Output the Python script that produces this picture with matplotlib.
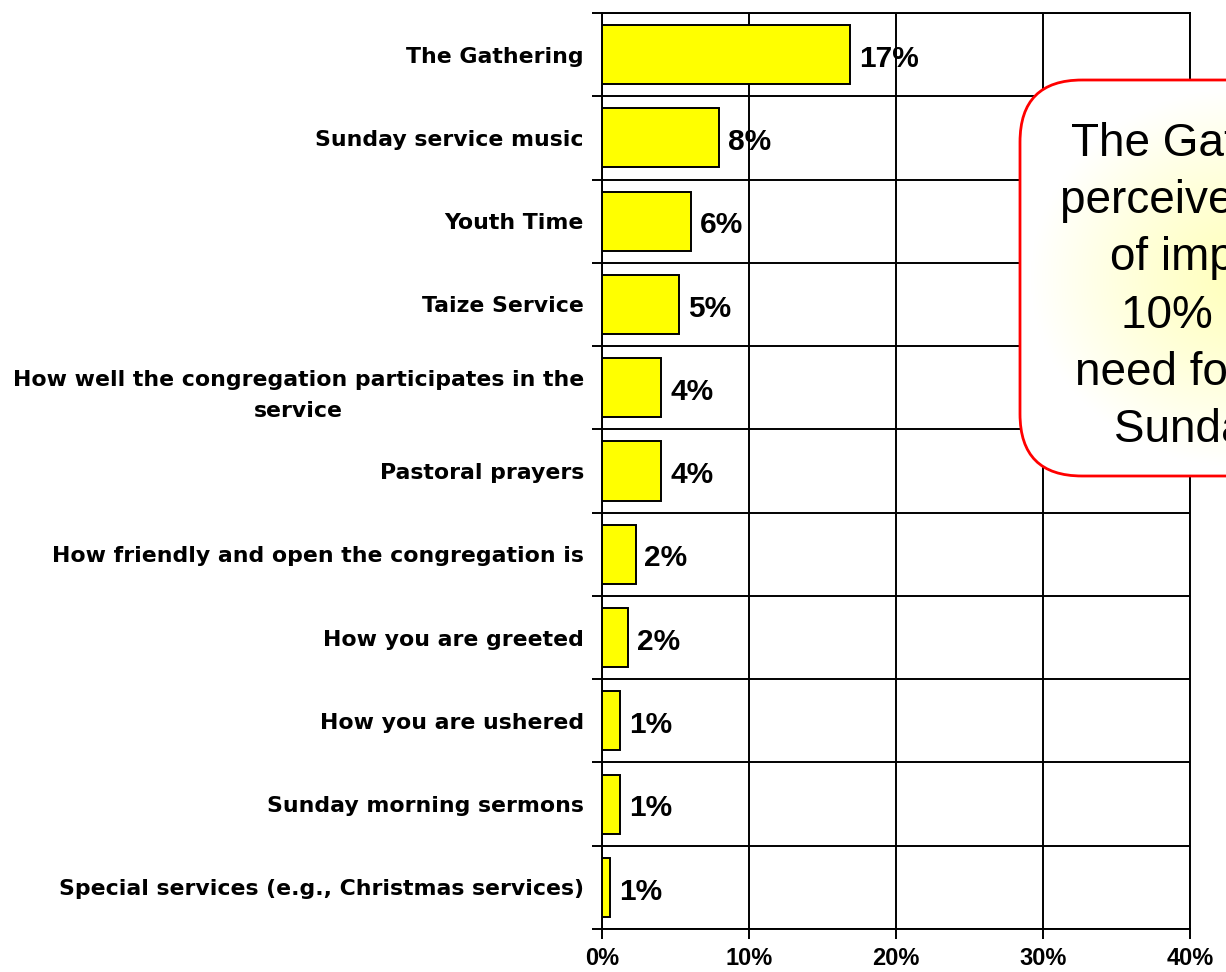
import numpy as np
import matplotlib
matplotlib.use("Agg")
import matplotlib.pyplot as plt
from matplotlib.patches import FancyBboxPatch

# ---- data -------------------------------------------------------------
categories = [
    "The Gathering",
    "Sunday service music",
    "Youth Time",
    "Taize Service",
    "How well the congregation participates in the\nservice",
    "Pastoral prayers",
    "How friendly and open the congregation is",
    "How you are greeted",
    "How you are ushered",
    "Sunday morning sermons",
    "Special services (e.g., Christmas services)",
]
values = [16.87, 7.98, 6.08, 5.24, 4.04, 4.04, 2.29, 1.77, 1.25, 1.25, 0.55]
x_ticks = [0, 10, 20, 30, 40]
x_tick_labels = ["0%", "10%", "20%", "30%", "40%"]

callout_lines = [
    "The Gathering is",
    "perceived in need",
    "of improving,",
    "10% cited a",
    "need for change",
    "Sundays too",
]

# ---- figure -----------------------------------------------------------
W, H, DPI = 1226, 972, 100
fig = plt.figure(figsize=(W / DPI, H / DPI), dpi=DPI)
fig.patch.set_facecolor("white")
arial = "Liberation Sans"
label_font = "DejaVu Sans"

ax = fig.add_axes([602 / W, 1 - 929 / H, (1190 - 602) / W, (929 - 13) / H])
y = np.arange(len(categories))
ax.barh(y, values, height=0.71, color="#FFFF00", edgecolor="black",
        linewidth=1.4, zorder=3)

ax.set_xlim(0, 40)
ax.set_ylim(len(categories) - 0.5, -0.5)

# value labels at the end of each bar
for yi, v in zip(y, values):
    ax.text(v + 0.6, yi + 0.05, f"{v:.0f}%", va="center", ha="left",
            fontsize=21.5, fontweight="bold", family=arial, zorder=4)

# y axis: labels at bar centres, tick marks at row boundaries
ax.set_yticks(y)
ax.set_yticklabels(categories, fontsize=15.8, fontweight="bold",
                   family=label_font, multialignment="center",
                   linespacing=1.72)
ax.set_yticks(np.arange(-0.5, len(categories) + 0.5, 1), minor=True)
ax.tick_params(axis="y", which="major", length=0, pad=13)
ax.tick_params(axis="y", which="minor", length=7, width=1.4, color="black")

ax.set_xticks(x_ticks)
ax.set_xticklabels(x_tick_labels, fontsize=17, fontweight="bold",
                   family=arial)
ax.tick_params(axis="x", which="major", length=7, width=1.4, pad=6)

ax.grid(True, axis="x", which="major", color="black", linewidth=1.4, zorder=1)
ax.grid(True, axis="y", which="minor", color="black", linewidth=1.4, zorder=1)
for s in ax.spines.values():
    s.set_linewidth(1.4)
    s.set_color("black")

# ---- callout box (runs off the right edge) ----------------------------
# overlay axes in pixel units over the whole figure
ov = fig.add_axes([0, 0, 1, 1], zorder=5)
ov.set_xlim(0, W)
ov.set_ylim(H, 0)
ov.axis("off")
ov.patch.set_alpha(0)

bx0, by0, bx1, by1 = 1020, 80, 1462, 476
radius = 62
cx, cy = (bx0 + bx1) / 2, (by0 + by1) / 2

def rounded_box(**kw):
    return FancyBboxPatch((bx0, by0), bx1 - bx0, by1 - by0,
                          boxstyle=f"round,pad=0,rounding_size={radius}", **kw)

# radial white-to-pale-yellow fill clipped to the rounded box
gx = np.linspace(bx0, bx1, 300)
gy = np.linspace(by0, by1, 300)
GX, GY = np.meshgrid(gx, gy)
r = np.sqrt(((GX - cx) / ((bx1 - bx0) / 2)) ** 2 +
            ((GY - cy) / ((by1 - by0) / 2)) ** 2)
t = np.clip(r / 0.95, 0, 1) ** 1.2
c_mid = np.array([1.0, 1.0, 0.74])
c_edge = np.array([1.0, 1.0, 1.0])
img = c_mid * (1 - t[..., None]) + c_edge * t[..., None]
im = ov.imshow(img, extent=[bx0, bx1, by1, by0], origin="upper",
               aspect="auto", zorder=5, interpolation="bilinear")
clip = rounded_box(facecolor="none", edgecolor="none")
ov.add_patch(clip)
im.set_clip_path(clip)
ov.add_patch(rounded_box(facecolor="none", edgecolor="#FF0000",
                         linewidth=2.0, zorder=6))

text_cx = 1241
base0, line_dy = 156, 57.2
for i, line in enumerate(callout_lines):
    ov.text(text_cx, base0 + i * line_dy, line, ha="center",
            va="baseline", fontsize=33, family=arial, color="black",
            zorder=7)

fig.savefig("out.png", dpi=DPI)
